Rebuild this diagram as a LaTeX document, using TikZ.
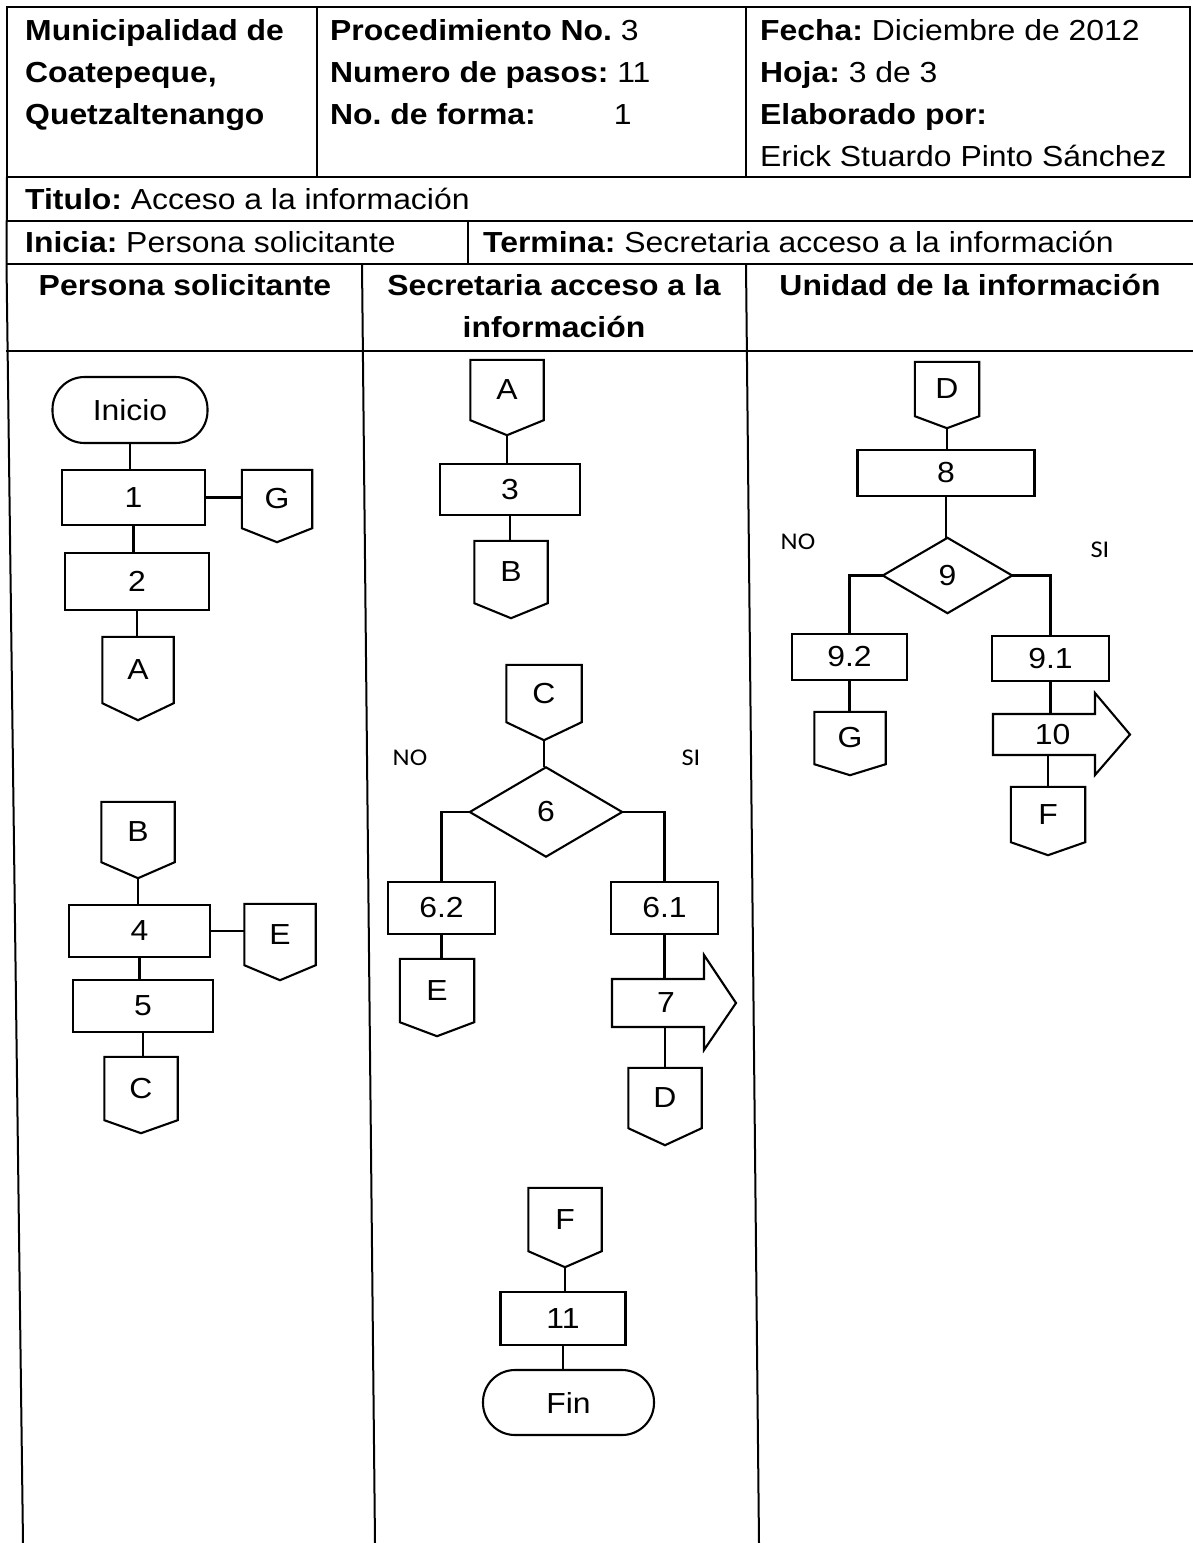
\documentclass[tikz,border=0pt]{standalone}
\usepackage{fontspec}
\setmainfont{Liberation Sans}[FakeStretch=1.1]
\newfontfamily\ynfont{Carlito}[FakeStretch=1.1]
\usetikzlibrary{calc}
\frenchspacing
\tikzset{
  ln/.style={line width=2.1pt},
  tbl/.style={line width=2pt},
  ftxt/.style={font=\fontsize{29}{35}\selectfont},
  htxt/.style={font=\fontsize{29}{35}\selectfont, inner sep=0, anchor=base west},
  hbold/.style={font=\fontsize{29}{35}\selectfont\bfseries, inner sep=0, anchor=base west},
  lanehd/.style={font=\fontsize{29}{35}\selectfont\bfseries, inner sep=0, anchor=base},
  proc/.style={draw, ln, inner sep=0, ftxt},
  term/.style={proc, rounded corners=32pt},
  ghost/.style={inner sep=0, ftxt},
  yn/.style={font=\ynfont\fontsize{24}{28}\selectfont, inner sep=0},
}
\newcommand\opg[7]{%
  \node[ghost, minimum width=#4, minimum height=#5] (#1) at (#2,#3) {#7};
  \coordinate (#1-tip) at ([yshift=-#6pt]#1.south);
  \draw[ln] (#1.north west) -- (#1.north east) -- (#1.south east) -- (#1-tip) -- (#1.south west) -- cycle;
}
\begin{document}
\begin{tikzpicture}[x=1pt, y=-1pt]
\useasboundingbox (0,0) rectangle (1193,1543);
\fill[white] (0,0) rectangle (1193,1543);

% ---------- table ----------
\draw[tbl] (7,7) rectangle (1190,177);
\draw[tbl] (317,7) -- (317,177);
\draw[tbl] (746,7) -- (746,177);
\draw[tbl] (6,221) -- (1193,221);
\draw[tbl] (6,264) -- (1193,264);
\draw[tbl] (6,351) -- (1193,351);
\draw[tbl] (7,177) -- (6.5,264) -- (23,1543);
\draw[tbl] (468,221) -- (468,264);
\draw[tbl] (362,264) -- (375,1543);
\draw[tbl] (746,264) -- (759,1543);

% ---------- header text ----------
\node[hbold] (h11) at (25,40) {Municipalidad de};
\node[hbold] (h12) at (25,82) {Coatepeque,};
\node[hbold] (h13) at (25,124) {Quetzaltenango};
\node[htxt] (h21) at (330,40) {\textbf{Procedimiento No.} 3};
\node[htxt] (h22) at (330,82) {\textbf{Numero de pasos:} 11};
\node[htxt] (h23) at (330,124) {\textbf{No. de forma:}\hspace{78pt}1};
\node[htxt] (h31) at (760,40) {\textbf{Fecha:} Diciembre de 2012};
\node[htxt] (h32) at (760,82) {\textbf{Hoja:} 3 de 3};
\node[hbold] (h33) at (760,124) {Elaborado por:};
\node[htxt] (h34) at (760,166) {Erick Stuardo Pinto Sánchez};
\node[htxt] (tit) at (25,209) {\textbf{Titulo:} Acceso a la información};
\node[htxt] (ini) at (25,252) {\textbf{Inicia:} Persona solicitante};
\node[htxt] (ter) at (483,252) {\textbf{Termina:} Secretaria acceso a la información};
\node[lanehd] (l1) at (185,295) {Persona solicitante};
\node[lanehd] (l2a) at (554,295) {Secretaria acceso a la};
\node[lanehd] (l2b) at (554,337) {información};
\node[lanehd] (l3) at (970,295) {Unidad de la información};

% ---------- lane 1 ----------
\node[term, minimum width=155, minimum height=66] (start) at (130,410) {Inicio};
\node[proc, minimum width=143, minimum height=55] (p1) at (133.5,497.5) {1};
\opg{g1}{277}{499}{70}{58}{14}{G}
\node[proc, minimum width=144, minimum height=57] (p2) at (137,581.5) {2};
\opg{a1}{138}{670}{71}{66}{17}{A}
\draw[ln] (start.south) -- (start.south |- p1.north);
\draw[ln] (p1.east) -- (p1.east -| g1.west);
\draw[ln] (p1.south) -- (p1.south |- p2.north);
\draw[ln] (p2.south) -- (p2.south |- a1.north);

\opg{b1}{138}{832}{73}{60}{16}{B}
\node[proc, minimum width=141, minimum height=52] (p4) at (139.5,931) {4};
\opg{e1}{280}{934.5}{71}{61}{15}{E}
\node[proc, minimum width=140, minimum height=52] (p5) at (143,1006) {5};
\opg{c1}{141}{1088.5}{73}{63}{13}{C}
\draw[ln] (b1-tip) -- (b1-tip |- p4.north);
\draw[ln] (p4.east) -- (p4.east -| e1.west);
\draw[ln] (p4.south) -- (p4.south |- p5.north);
\draw[ln] (p5.south) -- (p5.south |- c1.north);

% ---------- lane 2 ----------
\opg{a2}{507}{390}{73}{60}{15}{A}
\node[proc, minimum width=140, minimum height=51] (p3) at (510,489.5) {3};
\opg{b2}{511}{572}{73}{62}{15}{B}
\draw[ln] (a2-tip) -- (a2-tip |- p3.north);
\draw[ln] (p3.south) -- (p3.south |- b2.north);

\opg{c2}{544}{693.5}{75}{57}{18}{C}
\node[ghost, minimum width=152, minimum height=89] (d6) at (546,812) {6};
\draw[ln] (d6.west) -- (d6.north) -- (d6.east) -- (d6.south) -- cycle;
\draw[ln] (c2-tip) -- (c2-tip |- d6.north);
\node[yn] (no6) at (410,758) {NO};
\node[yn] (si6) at (691,758) {SI};
\node[proc, minimum width=107, minimum height=52] (p62) at (441.5,908) {6.2};
\node[proc, minimum width=107, minimum height=52] (p61) at (664.5,908) {6.1};
\draw[ln] (d6.west) -| (p62.north);
\draw[ln] (d6.east) -| (p61.north);
\opg{e2}{437}{990.5}{74}{63}{14}{E}
\draw[ln] (p62.south) -- (p62.south |- e2.north);
\node[ghost, minimum width=108, minimum height=48] (a7) at (666,1003) {7};
\draw[ln] (612,979) -- (704,979) -- (704,955) -- (736,1003) -- (704,1050) -- (704,1027) -- (612,1027) -- cycle;
\draw[ln] (p61.south) -- (p61.south |- a7.north);
\opg{d2}{665}{1098}{73}{60}{17}{D}
\draw[ln] (d2.north |- a7.south) -- (d2.north);

\opg{f2}{565}{1219.5}{73}{63}{16}{F}
\node[proc, minimum width=125, minimum height=53] (p11) at (563,1318.5) {11};
\node[term, minimum width=171, minimum height=65] (fin) at (568.5,1402.5) {Fin};
\draw[ln] (f2-tip) -- (f2-tip |- p11.north);
\draw[ln] (p11.south) -- (p11.south |- fin.north);

% ---------- lane 3 ----------
\opg{d3}{947}{389}{64}{54}{12}{D}
\node[proc, minimum width=177, minimum height=46] (p8) at (946,473) {8};
\draw[ln] (d3-tip) -- (d3-tip |- p8.north);
\node[ghost, minimum width=129, minimum height=75] (d9) at (947.5,575.5) {9};
\draw[ln] (d9.west) -- (d9.north) -- (d9.east) -- (d9.south) -- cycle;
\draw[ln] (p8.south) -- (p8.south |- d9.north);
\node[yn] (no9) at (798,542) {NO};
\node[yn] (si9) at (1100,550) {SI};
\node[proc, minimum width=115, minimum height=46] (p92) at (849.5,657) {9.2};
\node[proc, minimum width=117, minimum height=45] (p91) at (1050.5,658.5) {9.1};
\draw[ln] (d9.west) -| (p92.north);
\draw[ln] (d9.east) -| (p91.north);
\opg{g3}{850}{738}{71}{52}{11}{G}
\draw[ln] (p92.south) -- (p92.south |- g3.north);
\node[ghost, minimum width=119, minimum height=41] (a10) at (1052.5,734.5) {10};
\draw[ln] (993,714) -- (1095,714) -- (1095,693) -- (1130,734.5) -- (1095,775) -- (1095,755) -- (993,755) -- cycle;
\draw[ln] (p91.south) -- (p91.south |- a10.north);
\opg{f3}{1048}{814.5}{74}{55}{13}{F}
\draw[ln] (f3.north |- a10.south) -- (f3.north);
\end{tikzpicture}
\end{document}
